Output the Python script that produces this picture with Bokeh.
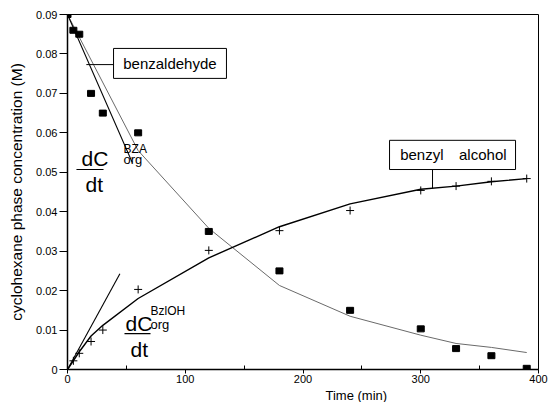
from bokeh.plotting import figure
from bokeh.models import FixedTicker, Range1d, Title
from bokeh.core.properties import value
from bokeh.embed import file_html
from bokeh.resources import INLINE

# measured data
time_bza = [0, 5, 10, 20, 30, 60, 120, 180, 240, 300, 330, 360, 390]
c_bza = [0.090, 0.086, 0.085, 0.070, 0.065, 0.060, 0.035, 0.025, 0.015, 0.0103, 0.0053, 0.0035, 0.0003]
time_bzoh = [0, 5, 10, 20, 30, 60, 120, 180, 240, 300, 330, 360, 390]
c_bzoh = [0.0, 0.0022, 0.0041, 0.0071, 0.0100, 0.0203, 0.0302, 0.0352, 0.0403, 0.0454, 0.0465, 0.0477, 0.0484]

# model curves
fit_t_bza = [0, 60, 120, 180, 240, 300, 330, 360, 390]
fit_c_bza = [0.090, 0.0555, 0.0358, 0.0213, 0.0135, 0.0087, 0.0066, 0.0056, 0.0043]
fit_t_bzoh = [0, 10, 20, 30, 60, 120, 180, 240, 300, 330, 360, 390]
fit_c_bzoh = [0.0, 0.0045, 0.0085, 0.0112, 0.0180, 0.0283, 0.0362, 0.0420, 0.0457, 0.0465, 0.0476, 0.0484]

# initial-rate tangents
tan_t_bza = [0, 55]
tan_c_bza = [0.090, 0.0525]
tan_t_bzoh = [0, 44.5]
tan_c_bzoh = [0.0, 0.0243]

x_ticks = [0, 100, 200, 300, 400]
y_ticks = [0, 0.01, 0.02, 0.03, 0.04, 0.05, 0.06, 0.07, 0.08, 0.09]
y_tick_labels = ["0", "0.01", "0.02", "0.03", "0.04", "0.05", "0.06", "0.07", "0.08", "0.09"]

FONT = "Liberation Sans"

p = figure(frame_width=471, frame_height=355, output_backend="svg", toolbar_location=None,
           x_range=Range1d(0, 400), y_range=Range1d(0, 0.09),
           min_border_left=67, min_border_right=10, min_border_top=14, min_border_bottom=31)
p.xgrid.visible = False
p.ygrid.visible = False
p.outline_line_color = "black"
p.outline_line_width = 1
p.background_fill_color = "white"
p.border_fill_color = "white"

# axes
p.xaxis.ticker = FixedTicker(ticks=x_ticks, minor_ticks=[50, 150, 250, 350])
p.yaxis.ticker = FixedTicker(ticks=y_ticks, minor_ticks=[])
p.yaxis.major_label_overrides = {t: l for t, l in zip(y_ticks, y_tick_labels)}
for ax in (p.xaxis, p.yaxis):
    ax.axis_line_color = "black"
    ax.axis_line_width = 1.5
    ax.major_tick_line_color = "black"
    ax.minor_tick_line_color = "black"
    ax.major_label_text_font = FONT
    ax.major_label_text_font_size = "11px"
    ax.major_label_text_color = "black"
    ax.axis_label_text_font = FONT
    ax.axis_label_text_font_style = "normal"
    ax.axis_label_text_color = "black"
p.xaxis.major_tick_in = 0
p.xaxis.major_tick_out = 4
p.xaxis.minor_tick_in = 4
p.xaxis.minor_tick_out = 0
p.xaxis.major_label_standoff = 1
p.yaxis.major_tick_in = 0
p.yaxis.major_tick_out = 8
p.yaxis.minor_tick_in = 0
p.yaxis.minor_tick_out = 0
p.yaxis.major_label_standoff = 2
p.yaxis.axis_label = "cyclohexane phase concentration (M)"
p.yaxis.axis_label_text_font_size = "15.5px"
p.yaxis.axis_label_standoff = 8

# x axis title (placed off-centre as in the original)
p.add_layout(Title(text="Time (min)", align="left", offset=258, text_font=FONT,
                   text_font_size="13px", text_font_style="normal", text_color="black",
                   standoff=0), "below")

# curves
p.line(fit_t_bza, fit_c_bza, line_color="#6a6a6a", line_width=1)
p.line(fit_t_bzoh, fit_c_bzoh, line_color="black", line_width=1.4)
p.line(tan_t_bza, tan_c_bza, line_color="black", line_width=1.1)
p.line(tan_t_bzoh, tan_c_bzoh, line_color="black", line_width=1.1)

# markers
p.rect(time_bza, c_bza, width=7, height=6, width_units="screen", height_units="screen",
       fill_color="black", line_color="black")
p.scatter(time_bzoh, c_bzoh, marker="cross", size=8, line_color="black", line_width=1)

def txt(x, y, s, size, align="left", baseline="alphabetic"):
    p.text(x=[x], y=[y], text=[s], text_font=value(FONT), text_font_size=value(size),
           text_align=align, text_baseline=baseline, text_color="black")

# benzaldehyde label box
p.segment(x0=[16], y0=[0.0773], x1=[39.1], y1=[0.0773], line_color="black", line_width=1)
p.quad(left=[39.1], right=[135.0], bottom=[0.0738], top=[0.0814],
       fill_color="white", line_color="black", line_width=1)
txt(87, 0.0776, "benzaldehyde", "15px", "center", "middle")

# benzyl alcohol label box
p.segment(x0=[310], y0=[0.0507], x1=[310], y1=[0.0459], line_color="black", line_width=1)
p.quad(left=[273.5], right=[380.5], bottom=[0.0507], top=[0.0581],
       fill_color="white", line_color="black", line_width=1)
txt(282.5, 0.0545, "benzyl", "15px", "left", "middle")
txt(332.5, 0.0545, "alcohol", "15px", "left", "middle")

# dC/dt annotations
def rate_label(x_dc, y_dc, x_sup, y_sup, sup, x_sub, y_sub, x_bar0, x_bar1, y_bar, x_dt, y_dt):
    txt(x_dc, y_dc, "dC", "21px")
    txt(x_sup, y_sup, sup, "12px")
    txt(x_sub, y_sub, "org", "13px")
    p.segment(x0=[x_bar0], y0=[y_bar], x1=[x_bar1], y1=[y_bar], line_color="black", line_width=1.2)
    txt(x_dt, y_dt, "dt", "21px")

rate_label(11.9, 0.0535, 47.6, 0.0560, "BZA", 47.6, 0.0533, 7.6, 30.6, 0.0507, 15.3, 0.0470)
rate_label(49.3, 0.0116, 70.5, 0.0148, "BzlOH", 70.5, 0.0114, 48.4, 70.5, 0.0091, 53.5, 0.0051)

open("out.html", "w").write(file_html(p, INLINE))
